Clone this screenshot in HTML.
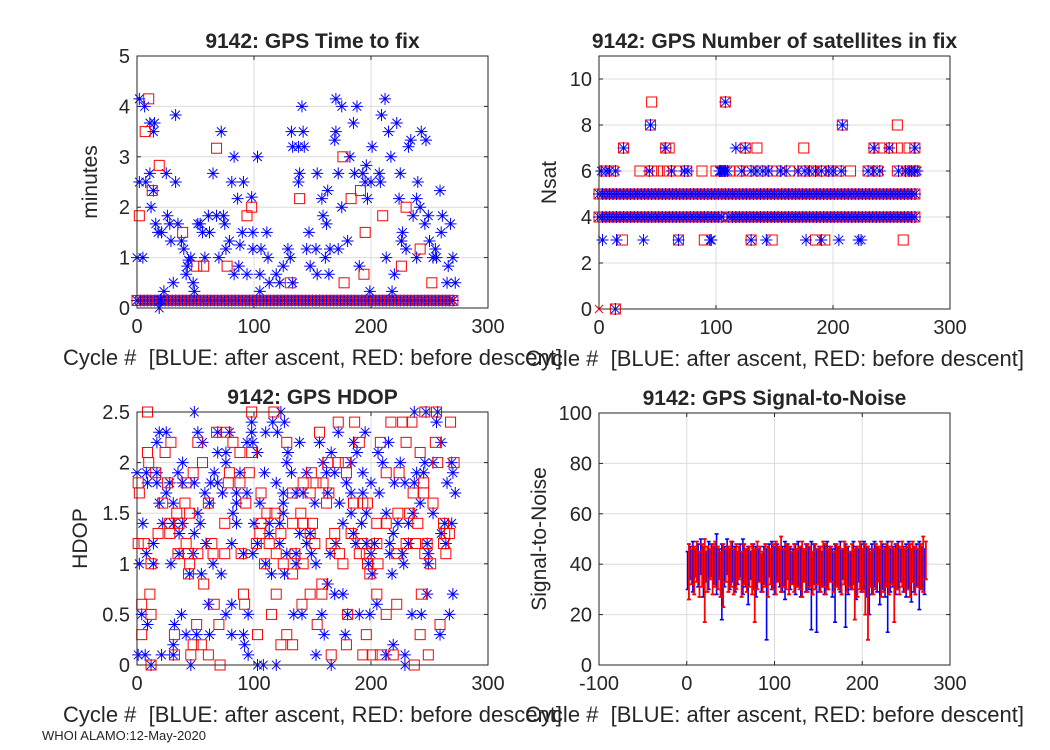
<!DOCTYPE html>
<html><head><meta charset="utf-8">
<style>
html,body{margin:0;padding:0;background:#fff;}
svg{display:block;}
text{font-family:"Liberation Sans",Arial,sans-serif;fill:#262626;white-space:pre;}
</style></head>
<body>
<svg id="fig" width="1050" height="750" viewBox="0 0 1050 750"></svg>
<script>
// ---------- DATA ----------
const baseCycles=[0,3,6,9,12,15,18,21,24,27,30,33,36,39,42,45,48,51,54,57,60,63,66,69,72,75,78,81,84,87,90,93,96,99,102,105,108,111,114,117,120,123,126,129,132,135,138,141,144,147,150,153,156,159,162,165,168,171,174,177,180,183,186,189,192,195,198,201,204,207,210,213,216,219,222,225,228,231,234,237,240,243,246,249,252,255,258,261,264,267,270];
const ttfBaseValue=0.15;
const ttfBlueX=[0,5,2,6.5,11,15,14,2,7.5,11,12,14,16,18,21,20,19,23,25,26,28,29,33,33,35,31,38,40,43,42,44,48,49,46,52,54,58,56,62,61,65,68,72,74,75,70,76,79,81,83,83,86,87,88,90,91,94,98,99,99,103,105,106,105,111,112,113,119,122,125,129,131,133,132,133,138,138,139,141,142,143,145,147,148,153,154,154,158,159,161,162,163,165,164,170,169,170,172,172,175,175,180,182,185,186,188,190,193,195,196,197,199,201,200,207,208,209,212,213,215,217,218,220,222,224,225,227,226,230,232,234,236,239,239,240,242,243,247,246,249,250,253,255,256,259,260,261,265,266,268,270,272];
const ttfBlueY=[1,1,4.15,4,3.67,3.67,3.5,2.5,2.5,2.67,2,2.33,1.67,1.5,1.5,0.16,0,0.33,2.67,1.83,1.67,1.33,3.83,2.5,1.67,0.5,1.33,1.17,0.83,0.67,0.95,0.5,0.33,1,1.67,1.67,1,1.5,1.5,1.83,2.67,1.83,3.5,1.83,1.67,1,1.17,1.33,2.5,3,0.67,2.17,0.83,1.25,1.5,2.5,0.67,2.2,1.5,1.17,3,0.67,1.17,0.33,1.5,1,0.5,0.67,0.5,0.83,1.17,1,0.5,3.5,3.2,3.2,2.5,2.67,4,3.5,3.2,1.17,1.5,0.83,1.17,2.67,0.67,2.17,1.83,1,1.67,2.33,1.17,0.67,3.5,3.33,4.15,1.17,2.67,4,2,1.33,3,3.67,2.67,4,0.83,2.67,2.5,2.83,2.17,0.33,3.2,2.5,2.67,2.5,3.83,4.15,1,3.5,3,0.33,0.67,3.67,2.17,2.67,1.5,1.33,1.17,3.2,3.33,1.83,1,2.17,2.5,2,3.5,3.33,1.67,1.83,1.33,1,1.17,1,2.33,1.5,1.83,0.5,0.83,1.67,1,0.5];
const ttfRedX=[2,10,7,13,19,39,51,57,68,77,94,98,131,139,176,177,183,191,195,194,210,226,230,242,252];
const ttfRedY=[1.83,4.15,3.5,2.33,2.83,1.5,0.83,0.83,3.17,0.83,1.83,2,0.5,2.17,3,0.5,2.17,2.33,1.5,0.67,1.83,0.83,2,1.17,0.5];

const nsat5Cycles=baseCycles;
const nsat4Cycles=[0,3,6,9,12,15,18,21,24,27,30,33,36,39,42,45,48,51,54,57,60,63,66,69,72,75,78,81,84,87,90,93,96,99,102,105,111,114,117,120,123,126,129,132,135,138,141,144,147,150,153,156,159,162,165,168,171,174,177,180,183,186,189,192,195,198,201,204,207,210,213,216,219,222,225,228,231,234,237,240,243,246,249,252,255,258,261,264,267,270];
const nsatBlueX=[2,6,9,14,43,62,73,76,103,104,105,106,107,108,110,122,130,135,140,145,155,160,170,176,180,185,190,196,200,207,230,235,240,256,262,265,267,270,272, 21,57,117,125,235,248,270, 44,208, 108, 3,15,38,68,95,96,130,143,177,190,205,222,224, 14];
const nsatBlueY=[6,6,6,6,6,6,6,6,6,6,6,6,6,6,6,6,6,6,6,6,6,6,6,6,6,6,6,6,6,6,6,6,6,6,6,6,6,6,6, 7,7,7,7,7,7,7, 8,8, 9, 3,3,3,3,3,3,3,3,3,3,3,3,3, 0];
const nsatRedX=[5,12,35,45,50,55,60,66,75,88,100,112,120,128,138,148,152,163,175,183,190,198,205,215,230,238,255,265,270, 21,57,60,125,135,175,235,240,250,255,265,270, 44,208,255, 45,108, 20,68,90,130,148,185,193,260, 14];
const nsatRedY=[6,6,6,6,6,6,6,6,6,6,6,6,6,6,6,6,6,6,6,6,6,6,6,6,6,6,6,6,6, 7,7,7,7,7,7,7,7,7,7,7,7, 8,8,8, 9,9, 3,3,3,3,3,3,3,3, 0];

const hdopLevels=[2.5,2.4,2.3,2.2,2.1,2.0,1.9,1.8,1.7,1.6,1.5,1.4,1.3,1.2,1.1,1.0,0.9,0.8,0.7,0.6,0.5,0.4,0.3,0.2,0.1,0.0];
const hdopBlueRows=[
[49,123,237,247,257],[98,116,126,256],[19,25,52,69,79,98,110,120,172,195],[17,56,94,99,139,156,185,215,260],
[69,76,103,129,166,188,206],[39,76,128,159,183,210,225,246,253,269],[0,8,17,35,66,88,109,132,145,162,169,193,239,245,270],
[9,17,28,39,49,63,69,119,179,200,220,229,237,265],[25,58,73,85,94,125,136,142,163,183,193,207,272],[19,31,62,85,105,125,152,173,242],
[52,82,125,183,196,213,236,253],[5,22,31,39,54,85,100,113,122,176,192,223,232,263,269],[36,49,113,139,148,185,219,260],
[14,59,81,103,122,145,170,187,196,203,216,232,248,264],[8,36,48,91,99,128,136,149,165,200,216,227,249],[2,14,29,65,110,136,153,198,228,249],
[45,55,72,115,126,201,218],[163],[169,176,248,270],[61,81,205],[4,38,76,95,134,141,158,180,190,199,235,243,267],[9,32],
[42,51,62,81,91,160,178,259],[31,92,219],[1,7,21,31,95,153,213,229],[12,46,103,108,119,166,229]];
const hdopRedRows=[
[9,98,117,246,256],[172,186,217,227,235,268],[68,76,156],[29,52,82,128,190,208,230,255],
[9,24,88,98,242],[10,56,163,172,178,257,271],[16,48,79,96,149,179,213,224],
[1,26,42,78,88,142,153,159,245],[2,106,133,148,164,236,245],[22,41,61,93,162,185,193,197,253],
[34,45,111,118,140,223,233],[28,36,75,106,133,142,150,205,213,240,262],[18,28,105,123,148,169,183,263,267],
[1,6,42,64,102,113,152,166,193,205,230,238,248,262],[35,44,52,65,75,89,119,135,173,190,196,222,246,264],[12,45,109,125,142,176,197,206,251],
[44,133,199],[57,158],[11,91,119,148,158,205,243],[4,66,92,141,222],[12,115,180,213],[51,70,154,259],
[4,32,103,128,196,242],[48,55,123,133,179],[32,46,61,166,193,201,208,219,249],[12,71,237]];

const snrCycles=[1,4,7,10,13,16,19,22,25,28,31,34,37,40,43,46,49,52,55,58,61,64,67,70,73,76,79,82,85,88,91,94,97,100,103,106,109,112,115,118,121,124,127,130,133,136,139,142,145,148,151,154,157,160,163,166,169,172,175,178,181,184,187,190,193,196,199,202,205,208,211,214,217,220,223,226,229,232,235,238,241,244,247,250,253,256,259,262,265,268,271];
const snrBlueHi=[45,47,49,46,48,50,47,45,49,48,47,52,46,48,47,50,46,49,47,45,48,50,46,47,45,48,47,46,44,47,46,48,49,47,48,46,47,49,48,47,46,48,49,47,46,48,47,49,48,46,47,45,48,49,47,46,48,47,49,46,48,47,45,49,47,46,48,49,47,46,48,49,47,46,48,47,49,46,47,48,49,46,47,48,49,46,47,48,49,47,46];
const snrBlueLo=[30,34,29,35,31,36,27,33,30,35,32,28,34,18,31,36,30,33,29,32,35,28,31,24,34,30,27,33,29,32,10,35,30,28,33,31,29,26,34,30,32,28,31,27,33,29,30,14,32,13,29,31,28,30,33,27,17,31,29,34,15,28,30,32,26,33,29,30,27,20,28,31,29,24,30,27,13,29,31,28,30,33,29,27,30,25,29,31,22,30,28];
const snrRedHi=[48,46,47,49,45,48,50,47,46,48,49,47,45,48,46,47,49,46,48,47,45,48,46,47,48,46,49,47,45,48,47,46,48,49,47,51,46,48,47,45,48,46,47,49,46,48,47,45,48,46,47,49,48,46,47,45,48,47,46,49,47,45,48,46,47,49,46,48,47,45,46,48,47,49,46,48,47,49,46,48,47,49,46,47,48,49,47,46,48,51,49];
const snrRedLo=[26,32,28,33,27,31,17,29,34,28,31,30,27,23,33,29,31,28,30,34,27,32,29,31,28,17,30,33,29,31,27,32,30,28,33,29,31,30,28,32,29,31,30,27,33,29,31,28,30,32,29,31,28,30,33,29,31,30,28,32,29,31,30,18,27,30,29,20,10,31,28,30,33,27,29,31,28,32,17,30,28,31,29,30,27,33,28,31,30,29,34];

// ---------- DRAWING ----------
const NS='http://www.w3.org/2000/svg';
const fig=document.getElementById('fig');
function mk(tag,attrs,parent){const e=document.createElementNS(NS,tag);for(const k in attrs)e.setAttribute(k,attrs[k]);(parent||fig).appendChild(e);return e;}
function txt(s,attrs,parent){const t=mk('text',attrs,parent);t.textContent=s;return t;}

function axes(name,b,xd,yd,xt,yt,title,ylab,xlab){
  const g=mk('g',{});
  
  
  const sx=v=>b.x0+(v-xd[0])/(xd[1]-xd[0])*(b.x1-b.x0);
  const sy=v=>b.y1-(v-yd[0])/(yd[1]-yd[0])*(b.y1-b.y0);
  mk('rect',{x:b.x0,y:b.y0,width:b.x1-b.x0,height:b.y1-b.y0,fill:'#fff'},g);
  xt.forEach(v=>{const x=sx(v);
    const l=mk('line',{x1:x,x2:x,y1:b.y0,y2:b.y1,stroke:'#dcdcdc','stroke-width':1},g);
    
    
    mk('line',{x1:x,x2:x,y1:b.y1,y2:b.y1-4,stroke:'#262626'},g);
    mk('line',{x1:x,x2:x,y1:b.y0,y2:b.y0+4,stroke:'#262626'},g);
    const t=txt(String(v),{x:x,y:b.y1+25,'font-size':20,'text-anchor':'middle'},g);
    
    
  });
  yt.forEach(v=>{const y=sy(v);
    const l=mk('line',{x1:b.x0,x2:b.x1,y1:y,y2:y,stroke:'#dcdcdc','stroke-width':1},g);
    
    
    mk('line',{x1:b.x0,x2:b.x0+4,y1:y,y2:y,stroke:'#262626'},g);
    mk('line',{x1:b.x1,x2:b.x1-4,y1:y,y2:y,stroke:'#262626'},g);
    const t=txt(String(v),{x:b.x0-7,y:y+7,'font-size':20,'text-anchor':'end'},g);
    
    
  });
  const tt=txt(title,{x:(b.x0+b.x1)/2,y:b.y0-8,'font-size':21,'font-weight':'bold','text-anchor':'middle',fill:'#000'},g);
  
  
  const yl=txt(ylab,{x:0,y:0,'font-size':21,'text-anchor':'middle',transform:`translate(${b.ylx},${(b.y0+b.y1)/2}) rotate(-90)`},g);
  
  
  const xl=txt(xlab,{x:(b.x0+b.x1)/2,y:b.y1+57,'font-size':22,'text-anchor':'middle'},g);
  
  
  const plot=mk('g',{},g);
  
  
  return {g,plot,sx,sy,b};
}
function box(A){const b=A.b;const r=mk('rect',{x:b.x0,y:b.y0,width:b.x1-b.x0,height:b.y1-b.y0,fill:'none',stroke:'#262626','stroke-width':1},A.g);
  
  }
function star(A,x,y,col){const cx=A.sx(x),cy=A.sy(y),h=6,d=4.3;
  const p=mk('path',{d:`M${cx-h},${cy}H${cx+h}M${cx},${cy-h}V${cy+h}M${cx-d},${cy-d}L${cx+d},${cy+d}M${cx-d},${cy+d}L${cx+d},${cy-d}`,stroke:col,'stroke-width':1,fill:'none'},A.plot);
  
  }
function sq(A,x,y,col,s){s=s||10;const r=mk('rect',{x:A.sx(x)-s/2,y:A.sy(y)-s/2,width:s,height:s,fill:'none',stroke:col,'stroke-width':1},A.plot);
  
  }
const XL='Cycle #\u00a0\u00a0[BLUE: after ascent, RED: before descent]';

// Time to fix
const A1=axes('time-to-fix-chart',{x0:137,x1:488,y0:56,y1:308,ylx:97},[0,300],[0,5],[0,100,200,300],[0,1,2,3,4,5],'9142: GPS Time to fix','minutes',XL);
baseCycles.forEach(c=>star(A1,c,ttfBaseValue,'#0000ff'));
baseCycles.forEach(c=>sq(A1,c,ttfBaseValue,'#ff0000',10));
ttfBlueX.forEach((x,i)=>star(A1,x,ttfBlueY[i],'#0000ff'));
ttfRedX.forEach((x,i)=>sq(A1,x,ttfRedY[i],'#ff0000',10));
box(A1);

// Nsat
const A2=axes('nsat-chart',{x0:599,x1:950,y0:56,y1:309,ylx:556},[0,300],[0,11],[0,100,200,300],[0,2,4,6,8,10],'9142: GPS Number of satellites in fix','Nsat',XL);
nsat5Cycles.forEach(c=>sq(A2,c,5,'#ff0000',10));
nsat4Cycles.forEach(c=>sq(A2,c,4,'#ff0000',10));
nsat5Cycles.forEach(c=>star(A2,c,5,'#0000ff'));
nsat4Cycles.forEach(c=>star(A2,c,4,'#0000ff'));
nsatRedX.forEach((x,i)=>sq(A2,x,nsatRedY[i],'#ff0000',10));
nsatBlueX.forEach((x,i)=>star(A2,x,nsatBlueY[i],'#0000ff'));
(function(){const cx=A2.sx(0),cy=A2.sy(0);const p=mk('path',{d:`M${cx-4},${cy-4}L${cx+4},${cy+4}M${cx-4},${cy+4}L${cx+4},${cy-4}`,stroke:'#ff0000',fill:'none'},A2.plot);

})();
box(A2);

// HDOP
const A3=axes('hdop-chart',{x0:137,x1:488,y0:412,y1:665,ylx:87},[0,300],[0,2.5],[0,100,200,300],[0,0.5,1,1.5,2,2.5],'9142: GPS HDOP','HDOP',XL);
hdopLevels.forEach((lv,i)=>hdopBlueRows[i].forEach(c=>star(A3,c,lv,'#0000ff')));
hdopLevels.forEach((lv,i)=>hdopRedRows[i].forEach(c=>sq(A3,c,lv,'#ff0000',10)));
box(A3);

// SNR
const A4=axes('snr-chart',{x0:599,x1:950,y0:413,y1:665,ylx:546},[-100,300],[0,100],[-100,0,100,200,300],[0,20,40,60,80,100],'9142: GPS Signal-to-Noise','Signal-to-Noise',XL);
function ebar(c,lo,hi,col,w){const x=A4.sx(c),y1=A4.sy(lo),y2=A4.sy(hi);
  const p=mk('path',{d:`M${x},${y1}V${y2}M${x-2},${y1}H${x+2}M${x-2},${y2}H${x+2}`,stroke:col,'stroke-width':w,fill:'none'},A4.plot);
  
  }
snrCycles.forEach((c,i)=>ebar(c,snrBlueLo[i],snrBlueHi[i],'#0000ff',1.6));
snrCycles.forEach((c,i)=>ebar(c+1.5,snrRedLo[i],snrRedHi[i],'#ff0000',1.8));
box(A4);

const f=txt('WHOI ALAMO:12-May-2020',{x:42,y:740,'font-size':13,fill:'#000'});


</script>
</body></html>
